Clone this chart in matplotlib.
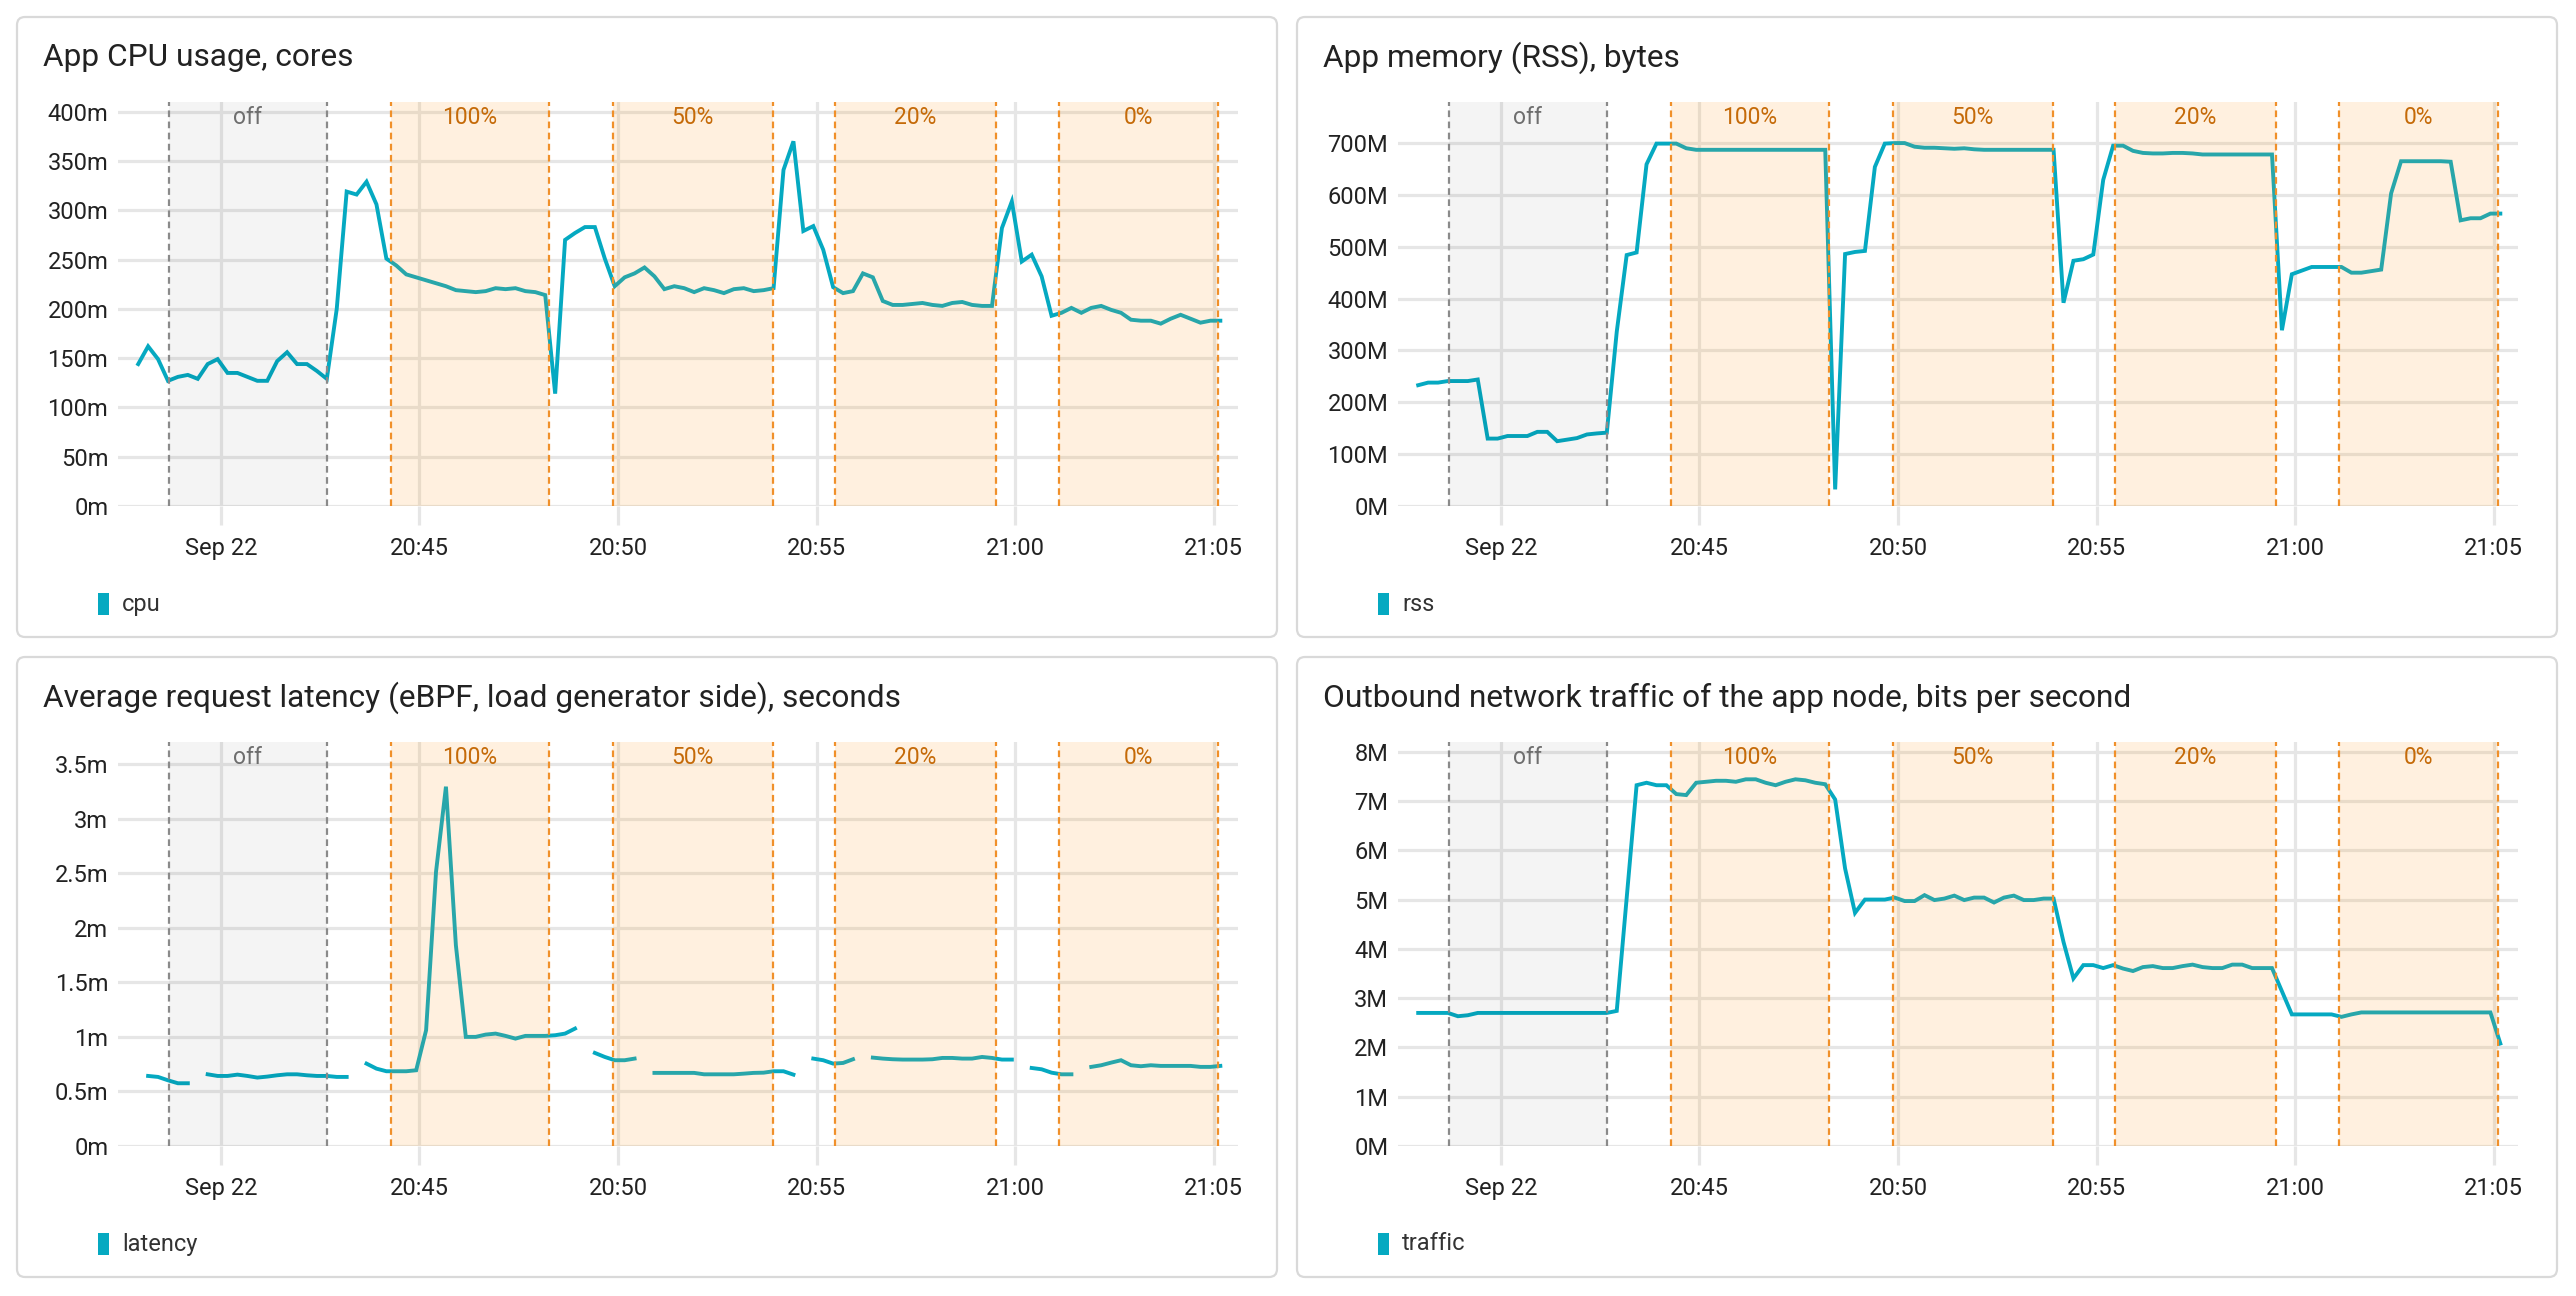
import matplotlib
matplotlib.use("Agg")
import matplotlib.pyplot as plt
from matplotlib.patches import FancyBboxPatch, Rectangle
from matplotlib.ticker import FuncFormatter, MultipleLocator
import numpy as np
import pandas as pd

plt.rcParams['font.family'] = ['Roboto', 'DejaVu Sans']

# ---------------- data ----------------
times = pd.date_range("2023-09-22 20:37:55", periods=110, freq="15s")

cpu_millicores = [
    144, 162, 149, 127, 131, 133, 129, 144, 149, 135, 135, 131, 127, 127, 147, 156, 144, 144, 137, 129,
    200, 319, 316, 329, 306, 251, 244, 235, 232, 229, 226, 223, 219, 218, 217, 218, 221, 220, 221, 218, 217, 214,
    114, 270, 277, 283, 283, 251, 223, 232, 236, 242, 233, 220, 223,
    221, 217, 221, 219, 216, 220, 221, 218, 219, 221,
    341, 370, 279, 284, 260, 222, 216, 218, 236, 232,
    208, 204, 204, 205, 206, 204, 203, 206, 207, 204, 203, 203,
    282, 309, 248, 255, 233, 193, 196, 201, 196, 201, 203, 199, 196,
    189, 188, 188, 185, 190, 194, 190, 186, 188, 188,
]

rss_mb = [
    233, 238, 238, 241, 241, 241, 244,
    130, 130, 135, 135, 135, 143, 143, 125, 128, 131, 138, 140, 141.5,
    336, 484, 489, 659,
    699, 699, 699,
    690,
    687, 687, 687, 687, 687, 687, 687, 687, 687, 687, 687, 687, 687, 687,
    32,
    486, 490, 492, 654,
    699, 700, 700,
    693, 691, 691, 690, 689,
    690,
    688,
    687, 687, 687, 687, 687, 687, 687, 687,
    392, 473, 476, 485, 629,
    695, 695, 685,
    681, 680, 680,
    681, 681,
    680,
    678, 678, 678, 678, 678, 678, 678, 678,
    339, 447, 454, 461, 461, 461, 461,
    450, 450, 453, 456,
    603, 665, 665, 665, 665, 665, 664,
    551, 555, 555, 564, 564,
]

nan = float('nan')
latency_ms = [
    nan,
    0.642, 0.633, 0.602, 0.575, 0.575,
    nan,
    0.657, 0.642, 0.642, 0.654, 0.642, 0.627, 0.636, 0.648, 0.657, 0.657, 0.648, 0.642, 0.642, 0.633, 0.633,
    nan,
    0.755, 0.709, 0.685, 0.685, 0.685, 0.694, 1.061, 2.513, 3.293, 1.84, 1.0, 1.0, 1.021, 1.030, 1.009,
    0.984, 1.009, 1.009, 1.009, 1.015, 1.03, 1.076,
    nan,
    0.853, 0.816, 0.786, 0.786, 0.801,
    nan,
    0.67, 0.67, 0.67, 0.67, 0.67, 0.657, 0.657, 0.657, 0.657, 0.663, 0.67, 0.672, 0.685, 0.685, 0.654,
    nan,
    0.801, 0.786, 0.755, 0.761, 0.795,
    nan,
    0.81, 0.801, 0.795, 0.792, 0.792, 0.792, 0.795, 0.807, 0.807, 0.801, 0.801, 0.816, 0.807, 0.792, 0.792,
    nan,
    0.715, 0.703, 0.672, 0.657, 0.657,
    nan,
    0.725, 0.74, 0.764, 0.786, 0.74, 0.731, 0.74, 0.734, 0.734, 0.734, 0.734, 0.725, 0.725, 0.734,
]

traffic_mbps = [
    2.70, 2.70, 2.70, 2.70,
    2.633, 2.653,
    2.70, 2.70, 2.70, 2.70, 2.70, 2.70, 2.70, 2.70, 2.70, 2.70, 2.70, 2.70, 2.70, 2.70,
    2.741, 5.03,
    7.32, 7.37, 7.32, 7.32,
    7.14, 7.12,
    7.37, 7.39, 7.41, 7.41, 7.39, 7.44, 7.44, 7.37, 7.32, 7.39, 7.44, 7.42, 7.37, 7.34,
    7.03, 5.63, 4.73,
    5.00, 5.00, 5.00, 5.04, 4.97, 4.97, 5.09, 4.99, 5.02, 5.08,
    4.99, 5.04, 5.04, 4.94, 5.04, 5.08, 4.99, 4.99, 5.02, 5.02,
    4.14, 3.40, 3.67, 3.67, 3.61,
    3.67, 3.60, 3.55, 3.63, 3.65, 3.61, 3.61, 3.65, 3.68, 3.63, 3.61, 3.61, 3.68, 3.68, 3.61, 3.61, 3.61,
    3.14, 2.67, 2.67, 2.67, 2.67, 2.67, 2.62, 2.67,
    2.71, 2.71, 2.71, 2.71, 2.71, 2.71, 2.71, 2.71, 2.71, 2.71, 2.71, 2.71, 2.71, 2.71,
    2.08,
]

band_labels = ["off", "100%", "50%", "20%", "0%"]
band_starts = ["2023-09-22 20:38:41", "2023-09-22 20:44:17", "2023-09-22 20:49:52",
               "2023-09-22 20:55:28", "2023-09-22 21:01:07"]
band_ends = ["2023-09-22 20:42:40", "2023-09-22 20:48:16", "2023-09-22 20:53:54",
             "2023-09-22 20:59:31", "2023-09-22 21:05:06"]

tick_times = ["2023-09-22 20:40", "2023-09-22 20:45", "2023-09-22 20:50",
              "2023-09-22 20:55", "2023-09-22 21:00", "2023-09-22 21:05"]
tick_labels = ["Sep 22", "20:45", "20:50", "20:55", "21:00", "21:05"]

titles = ["App CPU usage, cores", "App memory (RSS), bytes",
          "Average request latency (eBPF, load generator side), seconds",
          "Outbound network traffic of the app node, bits per second"]
legend_names = ["cpu", "rss", "latency", "traffic"]

# ---------------- figure ----------------
W, H = 2576, 1296
fig = plt.figure(figsize=(W / 100, H / 100), dpi=100)
fig.patch.set_facecolor("white")

LINE = "#05a9c1"
GRID = "#e6e6e6"
ORANGE_FILL = "#ff9a1f"
ORANGE_EDGE = "#f0902a"
ORANGE_TEXT = "#c56a08"

def fx(px):
    return px / W

def fy(py):
    return 1 - py / H

panels = [(17, 17), (1297, 17), (17, 657), (1297, 657)]
panel_w, panel_h = 1260, 620

series = [
    (np.array(cpu_millicores) / 1000.0, 0.4102, 0.05, lambda v, p: f"{v*1000:.0f}m"),
    (np.array(rss_mb) * 1e6, 779.8e6, 100e6, lambda v, p: f"{v/1e6:.0f}M"),
    (np.array(latency_ms) / 1000.0, 3.705e-3, 0.5e-3, lambda v, p: f"{v*1000:g}m"),
    (np.array(traffic_mbps) * 1e6, 8.203e6, 1e6, lambda v, p: f"{v/1e6:.0f}M"),
]

xmin = pd.Timestamp("2023-09-22 20:37:24.5")
xmax = pd.Timestamp("2023-09-22 21:05:36.7")

for i, (px, py) in enumerate(panels):
    # panel frame
    r = 8
    box = FancyBboxPatch((fx(px), fy(py + panel_h)), panel_w / W, panel_h / H,
                         boxstyle=f"round,pad=0,rounding_size={r / W}",
                         mutation_aspect=W / H,
                         transform=fig.transFigure, facecolor="white",
                         edgecolor="#d9d9d9", linewidth=1.6, zorder=-5)
    fig.patches.append(box)

    # title
    fig.text(fx(px + 26), fy(py + 41), titles[i], fontsize=22.8, color="#222222",
             va="center", ha="left")

    # legend
    fig.patches.append(Rectangle((fx(px + 81), fy(py + 598)), 11 / W, 22 / H,
                                 transform=fig.transFigure, facecolor=LINE,
                                 edgecolor="none", zorder=2))
    fig.text(fx(px + 105), fy(py + 587), legend_names[i], fontsize=17,
             color="#333333", va="center", ha="left")

    # axes
    left = px + 101
    ax = fig.add_axes([fx(left), fy(py + 489), 1120 / W, (489 - 84.7) / H])
    ax.set_zorder(1)
    vals, ytop, ystep, fmt = series[i]

    ax.plot(times, vals, color=LINE, lw=2.8, zorder=2, solid_joinstyle="miter")

    ax.set_xlim(xmin, xmax)
    ax.set_ylim(0, ytop)
    ax.yaxis.set_major_locator(MultipleLocator(ystep))
    ax.yaxis.set_major_formatter(FuncFormatter(fmt))
    ax.set_xticks(pd.to_datetime(tick_times))
    ax.set_xticklabels(tick_labels)

    for s in ax.spines.values():
        s.set_visible(False)
    ax.set_axisbelow(True)
    ax.grid(True, color=GRID, lw=2.3)
    ax.tick_params(axis="x", length=14, width=2.3, color=GRID, pad=8,
                   labelsize=17, labelcolor="#222222")
    ax.tick_params(axis="y", length=0, pad=7, labelsize=17, labelcolor="#222222")

    # bands
    for lab, s, e in zip(band_labels, band_starts, band_ends):
        s = pd.Timestamp(s)
        e = pd.Timestamp(e)
        if lab == "off":
            fill, falpha, edge, tcol = "#000000", 0.045, "#8a8a8a", "#6e6e6e"
        else:
            fill, falpha, edge, tcol = ORANGE_FILL, 0.14, ORANGE_EDGE, ORANGE_TEXT
        ax.axvspan(s, e, color=fill, alpha=falpha, lw=0, zorder=3)
        for t in (s, e):
            ax.axvline(t, color=edge, lw=1.6, ls=(0, (3, 2)), zorder=4)
        mid = s + (e - s) / 2
        ax.text(mid, 1 - 16 / 404.3, lab, transform=ax.get_xaxis_transform(),
                ha="center", va="center", fontsize=16.5, color=tcol, zorder=5)

fig.savefig("out.png", dpi=100, facecolor="white")
